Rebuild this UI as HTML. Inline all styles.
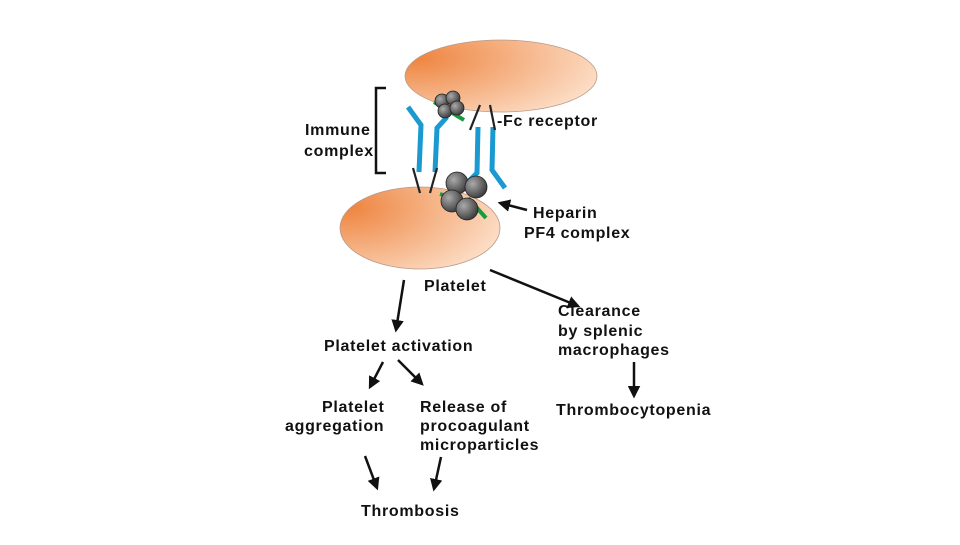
<!DOCTYPE html>
<html><head><style>
body{margin:0;background:#fff}
text{font-family:"Liberation Sans",sans-serif;font-weight:bold;font-size:16px;fill:#111;letter-spacing:0.7px}
</style></head><body>
<svg width="960" height="540" viewBox="0 0 960 540" xmlns="http://www.w3.org/2000/svg">
<defs>
<radialGradient id="cell" cx="0.05" cy="0.25" r="1">
<stop offset="0" stop-color="#ee843f"/><stop offset="1" stop-color="#fcdcc4"/>
</radialGradient>
<radialGradient id="ball" cx="0.35" cy="0.35" r="0.7">
<stop offset="0" stop-color="#aaa"/><stop offset="1" stop-color="#3a3a3a"/>
</radialGradient>
<marker id="ah" viewBox="0 0 10 10" refX="8" refY="5" markerWidth="5" markerHeight="5" orient="auto">
<path d="M0,0 L10,5 L0,10 z" fill="#111"/>
</marker>
</defs>
<ellipse cx="501" cy="76" rx="96" ry="36" fill="url(#cell)" stroke="#b89a88" stroke-width="0.8"/>
<ellipse cx="420" cy="228" rx="80" ry="41" fill="url(#cell)" stroke="#b89a88" stroke-width="0.8"/>
<path d="M386,88 L376,88 L376,173 L386,173" fill="none" stroke="#111" stroke-width="2.5"/>
<g stroke="#1a9ad0" stroke-width="5" fill="none">
<path d="M408,107 L421,125 L419,172"/>
<path d="M447,117 L437,128 L435,172"/>
<path d="M478,127 L477,173 L467,183"/>
<path d="M493,127 L492,170 L505,188"/>
</g>
<g stroke="#222" stroke-width="2.2">
<line x1="480" y1="105" x2="470" y2="130"/><line x1="490" y1="105" x2="495" y2="130"/>
<line x1="413" y1="168" x2="420" y2="193"/><line x1="437" y1="168" x2="430" y2="193"/>
</g>
<g stroke="#1a9a40" stroke-width="4">
<line x1="434" y1="102" x2="464" y2="120"/>
<line x1="440" y1="194" x2="472" y2="204"/><line x1="468" y1="198" x2="486" y2="218"/>
</g>
<g fill="url(#ball)" stroke="#222" stroke-width="0.8">
<circle cx="442" cy="101" r="7"/><circle cx="453" cy="98" r="7"/><circle cx="445" cy="111" r="7"/><circle cx="457" cy="108" r="7"/>
<circle cx="457" cy="183" r="11"/><circle cx="476" cy="187" r="11"/><circle cx="452" cy="201" r="11"/><circle cx="467" cy="209" r="11"/>
</g>
<text x="305" y="135">Immune</text>
<text x="304" y="156">complex</text>
<text x="497" y="126">-Fc receptor</text>
<text x="533" y="218">Heparin</text>
<text x="524" y="238">PF4 complex</text>
<text x="424" y="291">Platelet</text>
<text x="324" y="351">Platelet activation</text>
<text x="558" y="316">Clearance</text>
<text x="558" y="336">by splenic</text>
<text x="558" y="355">macrophages</text>
<text x="556" y="415">Thrombocytopenia</text>
<text x="322" y="412">Platelet</text>
<text x="285" y="431">aggregation</text>
<text x="420" y="412">Release of</text>
<text x="420" y="431">procoagulant</text>
<text x="420" y="450">microparticles</text>
<text x="361" y="516">Thrombosis</text>
<g stroke="#111" stroke-width="2.5" marker-end="url(#ah)">
<line x1="527" y1="210" x2="500" y2="203"/>
<line x1="404" y1="280" x2="396" y2="330"/>
<line x1="490" y1="270" x2="578" y2="306"/>
<line x1="383" y1="362" x2="370" y2="387"/>
<line x1="398" y1="360" x2="422" y2="384"/>
<line x1="365" y1="456" x2="377" y2="488"/>
<line x1="441" y1="457" x2="434" y2="489"/>
<line x1="634" y1="362" x2="634" y2="396"/>
</g>
</svg>
</body></html>
